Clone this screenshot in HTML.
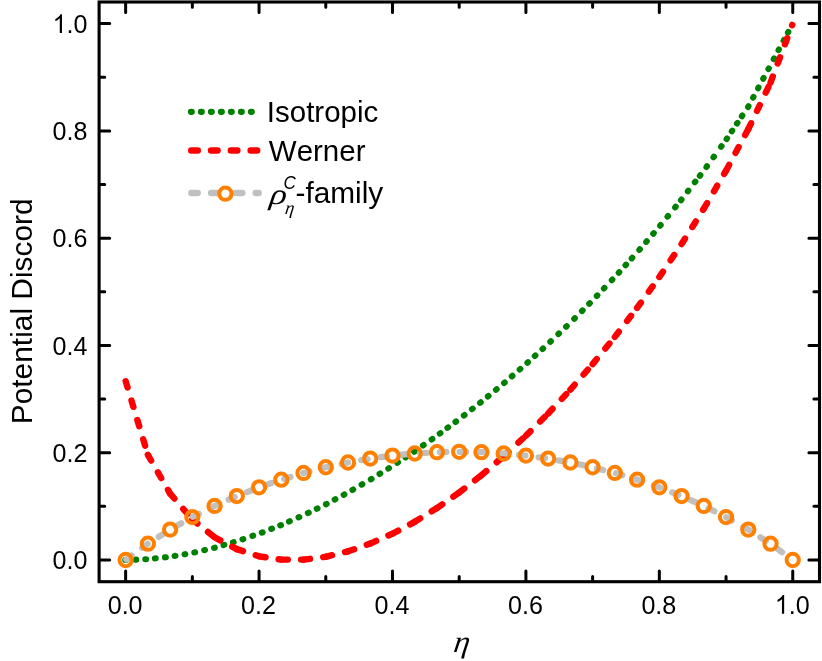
<!DOCTYPE html>
<html>
<head>
<meta charset="utf-8">
<title>Potential Discord</title>
<style>
html,body{margin:0;padding:0;background:#fff;}
body{width:822px;height:661px;overflow:hidden;}
svg{display:block;will-change:transform;}
text{font-family:"Liberation Sans",sans-serif;fill:#000;font-kerning:none;}
.ser{font-family:"Liberation Serif",serif;font-style:italic;}
</style>
</head>
<body>
<svg width="822" height="661" viewBox="0 0 822 661">
<rect x="0" y="0" width="822" height="661" fill="#ffffff"/>
<!-- curves -->
<g fill="none" stroke-linecap="round" stroke-linejoin="round">
<path stroke="#008000" stroke-width="6.1" d="M125.24,560.01 l0.80,-0.03 M135.40,559.63 l0.80,-0.03 M145.30,559.26 l0.80,-0.03 M154.90,558.41 l0.80,-0.09 M165.00,557.32 l0.80,-0.09 M174.61,555.99 l0.79,-0.14 M184.51,554.28 l0.79,-0.14 M194.31,552.47 l0.78,-0.18 M204.21,550.16 l0.78,-0.18 M214.01,547.88 l0.78,-0.18 M223.52,545.16 l0.77,-0.22 M232.92,542.45 l0.77,-0.22 M242.52,539.37 l0.76,-0.26 M252.42,535.98 l0.76,-0.26 M261.83,532.62 l0.74,-0.29 M271.23,528.93 l0.74,-0.29 M280.23,525.39 l0.74,-0.29 M289.03,521.56 l0.73,-0.32 M298.53,517.38 l0.73,-0.32 M307.94,513.03 l0.72,-0.35 M316.74,508.74 l0.72,-0.35 M325.95,504.25 l0.71,-0.38 M334.65,499.62 l0.71,-0.38 M343.65,494.83 l0.71,-0.38 M352.45,489.96 l0.69,-0.40 M361.65,484.66 l0.69,-0.40 M370.86,479.34 l0.68,-0.42 M379.56,473.96 l0.68,-0.42 M388.36,468.53 l0.68,-0.42 M397.37,462.76 l0.67,-0.44 M405.47,457.41 l0.67,-0.44 M414.17,451.67 l0.67,-0.44 M422.97,445.52 l0.66,-0.46 M431.67,439.42 l0.66,-0.46 M439.78,433.62 l0.64,-0.48 M447.48,427.90 l0.64,-0.48 M455.48,421.96 l0.64,-0.48 M463.89,415.53 l0.63,-0.49 M471.99,409.18 l0.63,-0.49 M480.09,402.83 l0.63,-0.49 M487.89,396.45 l0.62,-0.51 M495.99,389.76 l0.62,-0.51 M504.10,383.05 l0.60,-0.52 M511.80,376.37 l0.60,-0.52 M519.70,369.52 l0.60,-0.52 M527.40,362.77 l0.59,-0.54 M534.80,356.03 l0.59,-0.54 M542.50,349.02 l0.59,-0.54 M550.31,341.81 l0.58,-0.55 M558.41,334.07 l0.58,-0.55 M566.11,326.72 l0.58,-0.55 M574.22,318.80 l0.57,-0.57 M582.02,310.98 l0.57,-0.57 M589.22,303.77 l0.57,-0.57 M596.82,295.95 l0.55,-0.58 M603.92,288.49 l0.55,-0.58 M611.82,280.18 l0.55,-0.58 M618.73,272.72 l0.54,-0.59 M625.53,265.22 l0.54,-0.59 M631.73,258.38 l0.54,-0.59 M639.34,249.86 l0.52,-0.61 M646.24,241.86 l0.52,-0.61 M653.24,233.74 l0.52,-0.61 M660.15,225.67 l0.51,-0.62 M667.55,216.62 l0.51,-0.62 M675.15,207.32 l0.51,-0.62 M680.95,200.22 l0.51,-0.62 M687.86,191.31 l0.49,-0.63 M694.86,182.24 l0.49,-0.63 M699.86,175.76 l0.49,-0.63 M706.47,166.96 l0.47,-0.65 M713.47,157.28 l0.47,-0.65 M721.07,146.76 l0.47,-0.65 M726.58,139.08 l0.44,-0.66 M731.78,131.30 l0.44,-0.66 M736.98,123.53 l0.44,-0.66 M741.88,116.20 l0.44,-0.66 M748.11,106.94 l0.38,-0.71 M753.11,97.61 l0.38,-0.71 M758.11,88.27 l0.38,-0.71 M763.21,78.75 l0.38,-0.71 M768.41,69.04 l0.38,-0.71 M773.71,59.15 l0.38,-0.71 M778.51,50.18 l0.38,-0.71 M783.61,40.66 l0.38,-0.71 M787.91,32.63 l0.38,-0.71"/>
<g stroke="#ff0000" stroke-width="6.4">
<path stroke-dasharray="6.50 13.76" d="M125.64,381.20 L147.88,454.89"/>
<path stroke-dasharray="6.50 13.68" d="M147.88,454.89 L170.11,493.59"/>
<path stroke-dasharray="6.50 13.59" d="M170.11,493.59 L192.35,519.51"/>
<path stroke-dasharray="6.50 13.50" d="M192.35,519.51 L214.59,537.29"/>
<path stroke-dasharray="6.50 13.41" d="M214.59,537.29 L236.82,549.14"/>
<path stroke-dasharray="6.50 13.35" d="M236.82,549.14 L259.06,556.30"/>
<path stroke-dasharray="6.50 13.31" d="M259.06,556.30 L281.30,559.61"/>
<path stroke-dasharray="6.50 13.30" d="M281.30,559.61 L303.54,559.63"/>
<path stroke-dasharray="6.50 13.31" d="M303.54,559.63 L325.77,556.77"/>
<path stroke-dasharray="6.50 13.33" d="M325.77,556.77 L348.01,551.34"/>
<path stroke-dasharray="6.50 13.35" d="M348.01,551.34 L370.25,543.59"/>
<path stroke-dasharray="6.50 13.38" d="M370.25,543.59 L392.48,533.70"/>
<path stroke-dasharray="6.50 13.41" d="M392.48,533.70 L414.72,521.82"/>
<path stroke-dasharray="6.50 13.44" d="M414.72,521.82 L436.96,508.06"/>
<path stroke-dasharray="6.50 13.46" d="M436.96,508.06 L459.19,492.51"/>
<path stroke-dasharray="6.50 13.49" d="M459.19,492.51 L481.43,475.24"/>
<path stroke-dasharray="6.50 13.51" d="M481.43,475.24 L503.67,456.30"/>
<path stroke-dasharray="6.50 13.53" d="M503.67,456.30 L525.91,435.71"/>
<path stroke-dasharray="6.50 13.55" d="M525.91,435.71 L548.14,413.50"/>
<path stroke-dasharray="6.50 13.57" d="M548.14,413.50 L570.38,389.65"/>
<path stroke-dasharray="6.50 13.58" d="M570.38,389.65 L592.62,364.13"/>
<path stroke-dasharray="6.50 13.60" d="M592.62,364.13 L614.85,336.91"/>
<path stroke-dasharray="6.50 13.61" d="M614.85,336.91 L637.09,307.91"/>
<path stroke-dasharray="6.50 13.63" d="M637.09,307.91 L659.33,277.00"/>
<path stroke-dasharray="6.50 13.64" d="M659.33,277.00 L681.57,244.02"/>
<path stroke-dasharray="6.50 13.66" d="M681.57,244.02 L703.80,208.71"/>
<path stroke-dasharray="6.50 13.67" d="M703.80,208.71 L726.04,170.64"/>
<path stroke-dasharray="6.50 13.69" d="M726.04,170.64 L748.28,129.12"/>
<path stroke-dasharray="6.50 13.71" d="M748.28,129.12 L770.51,82.57"/>
<path stroke-dasharray="6.50 13.94" d="M770.51,82.57 L792.26,24.91"/>
</g>
<path stroke="#c0c0c0" stroke-width="6.3" stroke-dasharray="6.5 13.3" stroke-dashoffset="-0.9" d="M125.64,560.00 L147.88,543.72 L170.11,529.58 L192.35,517.07 L214.59,505.95 L236.82,496.06 L259.06,487.32 L281.30,479.64 L303.54,472.97 L325.77,467.26 L348.01,462.48 L370.25,458.60 L392.48,455.61 L414.72,453.48 L436.96,452.20 L459.19,451.78 L481.43,452.20 L503.67,453.48 L525.91,455.61 L548.14,458.60 L570.38,462.48 L592.62,467.26 L614.85,472.97 L637.09,479.64 L659.33,487.32 L681.57,496.06 L703.80,505.95 L726.04,517.07 L748.28,529.58 L770.51,543.72 L792.75,560.00"/>
</g>
<g fill="none" stroke="#ff8000" stroke-width="4">
<circle cx="125.64" cy="560.00" r="6.15"/>
<circle cx="147.88" cy="543.72" r="6.15"/>
<circle cx="170.11" cy="529.58" r="6.15"/>
<circle cx="192.35" cy="517.07" r="6.15"/>
<circle cx="214.59" cy="505.95" r="6.15"/>
<circle cx="236.82" cy="496.06" r="6.15"/>
<circle cx="259.06" cy="487.32" r="6.15"/>
<circle cx="281.30" cy="479.64" r="6.15"/>
<circle cx="303.54" cy="472.97" r="6.15"/>
<circle cx="325.77" cy="467.26" r="6.15"/>
<circle cx="348.01" cy="462.48" r="6.15"/>
<circle cx="370.25" cy="458.60" r="6.15"/>
<circle cx="392.48" cy="455.61" r="6.15"/>
<circle cx="414.72" cy="453.48" r="6.15"/>
<circle cx="436.96" cy="452.20" r="6.15"/>
<circle cx="459.19" cy="451.78" r="6.15"/>
<circle cx="481.43" cy="452.20" r="6.15"/>
<circle cx="503.67" cy="453.48" r="6.15"/>
<circle cx="525.91" cy="455.61" r="6.15"/>
<circle cx="548.14" cy="458.60" r="6.15"/>
<circle cx="570.38" cy="462.48" r="6.15"/>
<circle cx="592.62" cy="467.26" r="6.15"/>
<circle cx="614.85" cy="472.97" r="6.15"/>
<circle cx="637.09" cy="479.64" r="6.15"/>
<circle cx="659.33" cy="487.32" r="6.15"/>
<circle cx="681.57" cy="496.06" r="6.15"/>
<circle cx="703.80" cy="505.95" r="6.15"/>
<circle cx="726.04" cy="517.07" r="6.15"/>
<circle cx="748.28" cy="529.58" r="6.15"/>
<circle cx="770.51" cy="543.72" r="6.15"/>
<circle cx="792.75" cy="560.00" r="6.15"/>
</g>
<!-- frame + ticks -->
<g fill="none" stroke="#000" stroke-width="3.1" stroke-linejoin="miter">
<rect x="99.10" y="2.00" width="720.40" height="579.70"/>
</g>
<g fill="none" stroke="#000" stroke-width="3" stroke-linecap="round">
<path d="M125.64,580.20 V571.10 M125.64,3.50 V12.60 M100.60,560.00 H109.70 M818.00,560.00 H808.90"/>
<path d="M192.35,580.20 V576.40 M192.35,3.50 V7.30 M100.60,506.36 H104.70 M818.00,506.36 H813.90"/>
<path d="M259.06,580.20 V571.10 M259.06,3.50 V12.60 M100.60,452.72 H109.70 M818.00,452.72 H808.90"/>
<path d="M325.77,580.20 V576.40 M325.77,3.50 V7.30 M100.60,399.08 H104.70 M818.00,399.08 H813.90"/>
<path d="M392.48,580.20 V571.10 M392.48,3.50 V12.60 M100.60,345.44 H109.70 M818.00,345.44 H808.90"/>
<path d="M459.19,580.20 V576.40 M459.19,3.50 V7.30 M100.60,291.80 H104.70 M818.00,291.80 H813.90"/>
<path d="M525.91,580.20 V571.10 M525.91,3.50 V12.60 M100.60,238.16 H109.70 M818.00,238.16 H808.90"/>
<path d="M592.62,580.20 V576.40 M592.62,3.50 V7.30 M100.60,184.52 H104.70 M818.00,184.52 H813.90"/>
<path d="M659.33,580.20 V571.10 M659.33,3.50 V12.60 M100.60,130.88 H109.70 M818.00,130.88 H808.90"/>
<path d="M726.04,580.20 V576.40 M726.04,3.50 V7.30 M100.60,77.24 H104.70 M818.00,77.24 H813.90"/>
<path d="M792.75,580.20 V571.10 M792.75,3.50 V12.60 M100.60,23.60 H109.70 M818.00,23.60 H808.90"/>
</g>
<!-- tick labels -->
<g font-size="26">
<text transform="translate(107.70,613.80) scale(0.965,1)">0.0</text>
<text transform="translate(241.12,613.80) scale(0.965,1)">0.2</text>
<text transform="translate(374.54,613.80) scale(0.965,1)">0.4</text>
<text transform="translate(507.97,613.80) scale(0.965,1)">0.6</text>
<text transform="translate(641.39,613.80) scale(0.965,1)">0.8</text>
<path transform="translate(774.81,613.80) scale(0.01225,-0.01270)" d="M763 0H583V1147Q518 1085 412.5 1023Q307 961 223 930V1104Q374 1175 487 1276Q600 1377 647 1472H763Z" fill="#000" stroke="none"/><text transform="translate(788.76,613.80) scale(0.965,1)">.0</text>
<text transform="translate(52.62,569.30) scale(0.965,1)">0.0</text>
<text transform="translate(52.62,462.02) scale(0.965,1)">0.2</text>
<text transform="translate(52.62,354.74) scale(0.965,1)">0.4</text>
<text transform="translate(52.62,247.46) scale(0.965,1)">0.6</text>
<text transform="translate(52.62,140.18) scale(0.965,1)">0.8</text>
<path transform="translate(52.62,32.90) scale(0.01225,-0.01270)" d="M763 0H583V1147Q518 1085 412.5 1023Q307 961 223 930V1104Q374 1175 487 1276Q600 1377 647 1472H763Z" fill="#000" stroke="none"/><text transform="translate(66.58,32.90) scale(0.965,1)">.0</text>
</g>
<!-- axis titles -->
<text class="ser" font-size="31" text-anchor="middle" transform="translate(460.7,651.7) scale(1.04,1) skewX(-8)">η</text>
<text font-size="29.9" text-anchor="middle" transform="translate(31.5,311.3) rotate(-90)">Potential Discord</text>
<!-- legend -->
<g fill="none" stroke-linecap="round">
<path stroke="#008000" stroke-width="6.3" stroke-dasharray="0.7 9.3" d="M191.0,111.8 H258"/>
<path stroke="#ff0000" stroke-width="6.5" stroke-dasharray="6.5 13.3" d="M191.25,150.4 H258.75"/>
<path stroke="#c0c0c0" stroke-width="6.3" stroke-dasharray="6.5 13.3" d="M191.25,193.0 H225"/>
<path stroke="#c0c0c0" stroke-width="6.3" stroke-dasharray="6.5 13.3" d="M235.85,193.0 H258.75"/>
<circle cx="225.4" cy="193.7" r="6.15" stroke="#ff8000" stroke-width="4"/>
</g>
<g font-size="29.8">
<text transform="translate(266.8,121.5) scale(0.99,1)">Isotropic</text>
<text transform="translate(268.8,160.6) scale(0.99,1)">Werner</text>
<text x="295.5" y="203.3">-family</text>
</g>
<text class="ser" font-size="31" transform="translate(269.1,204.0) scale(1.14,0.948) skewX(-6)">ρ</text>
<text class="ser" font-size="18.5" transform="translate(284.6,214.3) skewX(-8)">η</text>
<text font-size="19" font-style="italic" transform="translate(283.4,188.9) scale(0.9,1)">C</text>
</svg>
</body>
</html>
